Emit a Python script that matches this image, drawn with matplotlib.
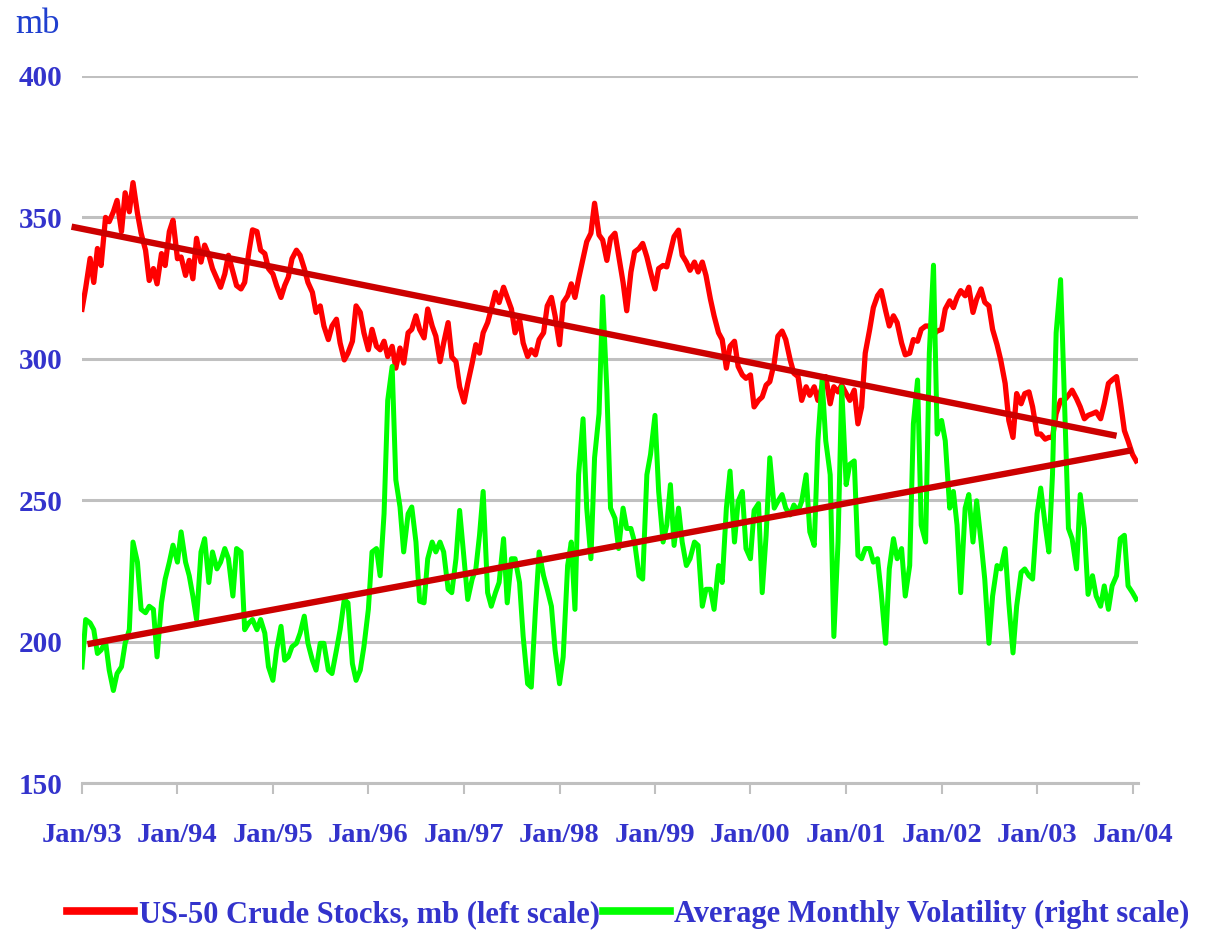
import matplotlib
matplotlib.use("Agg")
import matplotlib.pyplot as plt
import matplotlib.dates as mdates
import pandas as pd

plt.rcParams['font.family'] = ['Liberation Serif', 'DejaVu Serif']
plt.rcParams['font.weight'] = 'bold'

# semi-monthly readings, Jan 1993 - Jan 2004
stocks = [
    317.5, 325, 335.5, 327, 339, 333, 350, 348.5, 352, 356, 345, 358.7, 352, 362.3, 351.5, 344.4, 338.4, 327.7, 331.9, 326.5, 337.2, 333, 345, 349,
    335.4, 336, 329.5, 334.8, 328.3, 342.6, 334.2, 340.2, 336.6, 331.9, 328.3, 325.3, 330, 336.6, 330.7, 325.9, 324.7, 327, 337.8, 345.6, 345, 338.4, 337.2, 331.9,
    330, 325.9, 321.7, 325.9, 328.9, 335.4, 338.4, 336.6, 331.9, 327, 323.5, 316.4, 318.7, 311.6, 306.8, 311.6, 314, 305.6, 299.6, 302, 306.2, 318.7, 316.4, 309.2,
    303.2, 310.4, 304.4, 303.2, 306.2, 300.8, 304.4, 296.7, 303.8, 298.5, 309.2, 310.4, 315.2, 310.4, 307.4, 317.6, 311.6, 308, 299, 305.6, 312.8, 300.6, 299, 290.1,
    284.7, 291.3, 298.5, 305, 302, 309.2, 312.8, 317.6, 323.5, 319.9, 325.3, 321.7, 317.6, 309.2, 314, 305.6, 300.8, 303.2, 301.4, 306.8, 309.2, 318.7, 321.7, 315.2,
    305, 319.9, 322.3, 326.5, 321.7, 328.3, 335.4, 341.4, 344.4, 355, 343.8, 342, 334.8, 342.6, 344.4, 336.6, 327, 317, 330.7, 337.8, 339, 340.8, 336, 330.7,
    324.7, 331.9, 333, 332.5, 337.8, 343.2, 345.5, 336.6, 334.2, 331.3, 334.2, 330.7, 334.2, 329.5, 321.1, 315.2, 309.2, 306.8, 296.7, 304.4, 306.2, 297.3, 294.3, 293.1,
    294.3, 283, 285.3, 286.5, 290.7, 291.9, 298.5, 308, 309.8, 306.8, 299.6, 294.9, 293.7, 285.3, 290.1, 287.1, 290.1, 285.3, 290.1, 293.7, 284.1, 290.1, 288.3, 290.7,
    287.7, 285.3, 288.9, 277, 282.9, 302, 310.4, 318.1, 322.3, 324.1, 317, 311.6, 315.2, 312.8, 305.6, 301.4, 302, 306.8, 306.2, 310.4, 311.6, 311.6, 308.6, 309.8,
    310.4, 317.6, 320.5, 318.1, 321.7, 324.1, 322.3, 325.3, 316.4, 321.1, 324.7, 320, 318.7, 310.4, 305, 299.6, 291.3, 278.2, 272.2, 287.7, 284.1, 287.7, 288.3, 283,
    273.4, 273.4, 271.6, 272.2, 272.2, 280.6, 285.3, 285.3, 287.1, 288.9, 285.9, 283, 278.8, 280, 280.6, 281.2, 278.8, 284.1, 291.3, 292.5, 293.7, 285.3, 274.6, 271,
    266.2, 263.9,
]

# right scale is not labelled in the source, values read against the left grid
volatility = [
    191, 207.8, 206.6, 204.2, 195.8, 197, 200, 189.9, 182.7, 188.7, 191.1, 199.4, 204.2, 235.2, 228.1, 211.4, 210.2, 212.5, 211.4, 194.6, 213.7, 222.1, 228.1, 234.1,
    228.1, 238.8, 228.1, 223.3, 216.1, 207.8, 231.7, 236.4, 220.9, 231.7, 225.7, 228.1, 232.9, 229.3, 216.1, 232.9, 231.7, 204.2, 206.6, 207.8, 204.2, 207.8, 203, 191.1,
    186.3, 197, 205.4, 193.4, 194.6, 198.2, 199.4, 203, 209, 199.4, 193.4, 189.9, 199.4, 199.4, 189.9, 188.7, 197, 204.2, 214.9, 213.7, 192.2, 186.3, 189.9, 198.2,
    211.4, 231.7, 232.9, 223.3, 245.2, 285.3, 297.3, 257.2, 247.6, 231.7, 245.2, 247.6, 235.2, 214.3, 213.7, 229.3, 235.2, 231.7, 235.2, 231.7, 218.5, 217.3, 229.3, 246.4,
    229.3, 214.9, 222.1, 225.7, 237.6, 253.1, 217.3, 212.5, 217.3, 220.9, 236.4, 213.7, 229.3, 229.3, 220.9, 201.8, 185.1, 183.9, 211.4, 231.7, 223.3, 218.5, 212.5, 197,
    185.1, 194.6, 226.9, 235.2, 211.4, 259, 278.8, 247.2, 229.3, 265, 280.6, 322, 288.9, 247.2, 243.6, 232.9, 247.2, 240, 240, 235.2, 223.3, 222.1, 259, 266.2,
    280, 253.1, 235.2, 241.2, 255.5, 234, 247.2, 235.2, 226.9, 229.3, 235.2, 234, 212.5, 218.5, 218.5, 211.4, 226.9, 220.9, 247.2, 260.3, 235.2, 249.6, 253.1, 232.9,
    229.3, 246.4, 248.8, 217.3, 237.6, 265, 247.2, 249.6, 252, 247.2, 244.8, 248.3, 246, 249.6, 259, 238.8, 234, 271, 292.5, 271, 259, 201.8, 235.2, 290,
    255.5, 262.7, 263.9, 230.5, 229.3, 232.9, 232.9, 228.1, 229.3, 217.3, 199.4, 225.7, 236.4, 229.3, 232.9, 216.1, 226.9, 277, 292.5, 241.2, 235.2, 302, 333.1, 273.4,
    278.2, 271, 247.2, 253.1, 241.2, 217.3, 247.2, 252, 235.2, 249.8, 235.2, 222.1, 199.4, 216.1, 226.9, 225.7, 232.9, 213.7, 196, 212.5, 224.5, 225.7, 223.3, 222.1,
    245.2, 254.3, 241.2, 231.7, 259, 309.2, 328, 287.7, 240, 236.4, 225.7, 252, 240, 216.7, 223.3, 216.1, 212.5, 219.7, 211.4, 219.7, 223.3, 236.4, 237.6, 219.7,
    217.3, 215,
]

dates = pd.date_range('1993-01-01', periods=len(stocks), freq='SMS')

# trend line end points as drawn in the source
stock_trend_dates = pd.to_datetime(['1992-12-04', '2003-10-20'])
stock_trend = [346.5, 273.0]
vol_trend_dates = pd.to_datetime(['1993-02-03', '2003-12-20'])
vol_trend = [199.3, 267.5]

blue = '#3333cc'
grey = '#c0c0c0'

W, H = 1213, 933
fig = plt.figure(figsize=(W / 100, H / 100), dpi=100)
ax = fig.add_axes([82 / W, 1 - 783 / H, (1138 - 82) / W, (783 - 76) / H])

l1, = ax.plot(dates, stocks, color='#ff0000', lw=3.8, solid_joinstyle='round')
ax.set_ylim(150, 400)
ax.set_yticks([150, 200, 250, 300, 350, 400])
ax.set_xlim(pd.Timestamp('1993-01-01'), pd.Timestamp('2004-01-22'))
ax.xaxis.set_major_locator(mdates.YearLocator())
ax.xaxis.set_major_formatter(mdates.DateFormatter('%b/%y'))
ax.yaxis.grid(True, color=grey, lw=2.2)
ax.set_axisbelow(True)
for s in ['top', 'left', 'right']:
    ax.spines[s].set_visible(False)
ax.spines['bottom'].set_color(grey)
ax.spines['bottom'].set_linewidth(2.2)
ax.tick_params(axis='y', length=0, pad=14, labelsize=21, labelcolor=blue)
ax.tick_params(axis='x', length=8, width=1.5, color=grey, pad=21, labelsize=20.5, labelcolor=blue)

ax2 = ax.twinx()
l2, = ax2.plot(dates, volatility, color='#00ff00', lw=3.6, solid_joinstyle='round')
ax2.plot(stock_trend_dates, stock_trend, color='#cc0000', lw=4.6, clip_on=False)
ax2.plot(vol_trend_dates, vol_trend, color='#cc0000', lw=4.6, clip_on=False)
ax2.set_ylim(150, 400)
ax2.set_axis_off()

fig.text(15 / W, 1 - 33 / H, 'mb', color='#1f3fcf', fontsize=25,
         fontweight='normal', va='baseline')

leg = fig.legend([l1, l2],
                 ['US-50 Crude Stocks, mb (left scale)',
                  'Average Monthly Volatility (right scale)'],
                 loc='center', bbox_to_anchor=(0.518, 0.02), ncol=2,
                 frameon=False, fontsize=22, handlelength=2.2,
                 handletextpad=0.15, columnspacing=0.1, labelcolor=blue)
for h in leg.legend_handles:
    h.set_linewidth(5.5)

fig.savefig('out.png', dpi=100)
